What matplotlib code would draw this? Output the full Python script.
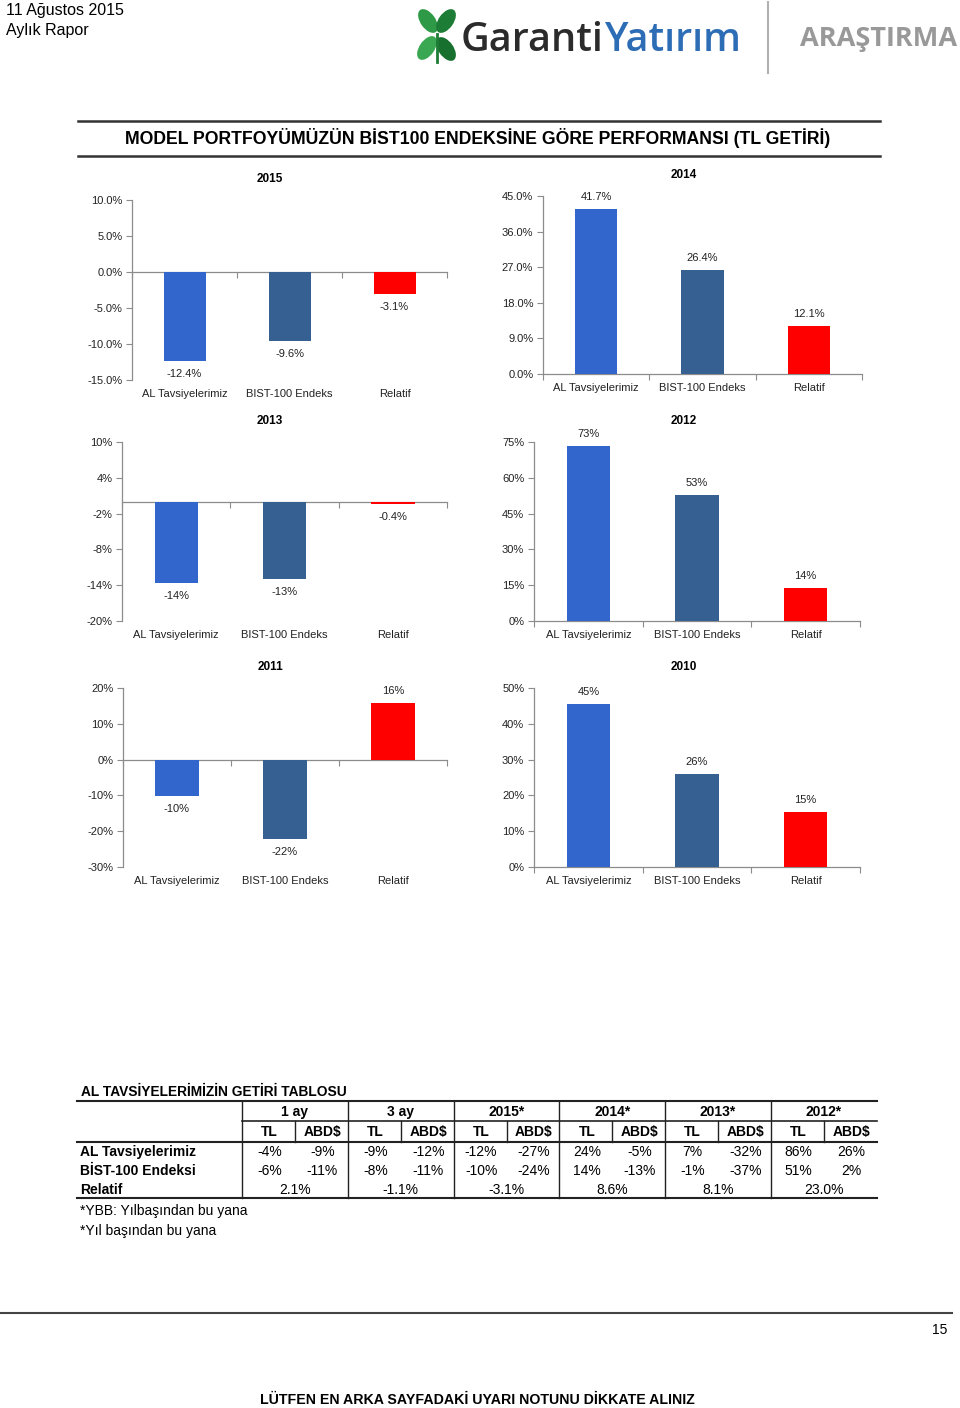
import numpy as np
import matplotlib
matplotlib.use("Agg")
import matplotlib.pyplot as plt
from matplotlib.patches import Ellipse

# ---- chart data ----
categories = ["AL Tavsiyelerimiz", "BIST-100 Endeks", "Relatif"]
bar_colors = ["#3366CC", "#376092", "#FF0000"]

vals_2015 = [-12.4, -9.6, -3.1]
vals_2014 = [41.7, 26.4, 12.1]
vals_2013 = [-13.6, -12.9, -0.4]
vals_2012 = [73.4, 52.7, 13.8]
vals_2011 = [-10.2, -22.2, 15.9]
vals_2010 = [45.4, 26.0, 15.4]

lbl_2015 = ["-12.4%", "-9.6%", "-3.1%"]
lbl_2014 = ["41.7%", "26.4%", "12.1%"]
lbl_2013 = ["-14%", "-13%", "-0.4%"]
lbl_2012 = ["73%", "53%", "14%"]
lbl_2011 = ["-10%", "-22%", "16%"]
lbl_2010 = ["45%", "26%", "15%"]

ticks_2015 = [-15, -10, -5, 0, 5, 10]
ticks_2014 = [0, 9, 18, 27, 36, 45]
ticks_2013 = [-20, -14, -8, -2, 4, 10]
ticks_2012 = [0, 15, 30, 45, 60, 75]
ticks_2011 = [-30, -20, -10, 0, 10, 20]
ticks_2010 = [0, 10, 20, 30, 40, 50]

# ---- table data ----
periods = ["1 ay", "3 ay", "2015*", "2014*", "2013*", "2012*"]
subcols = ["TL", "ABD$"]
row_names = ["AL Tavsiyelerimiz", "BİST-100 Endeksi", "Relatif"]
al_row = ["-4%", "-9%", "-9%", "-12%", "-12%", "-27%", "24%", "-5%", "7%", "-32%", "86%", "26%"]
bist_row = ["-6%", "-11%", "-8%", "-11%", "-10%", "-24%", "14%", "-13%", "-1%", "-37%", "51%", "2%"]
relatif_row = ["2.1%", "-1.1%", "-3.1%", "8.6%", "8.1%", "23.0%"]
footnotes = ["*YBB: Yılbaşından bu yana", "*Yıl başından bu yana"]

ARIAL = ["Liberation Sans", "DejaVu Sans"]
NARROW = ["Liberation Sans Narrow", "Liberation Sans", "DejaVu Sans"]
LOGO = ["Open Sans", "DejaVu Sans"]
AXIS_GRAY = "#8c8c8c"
W, H = 960, 1408

fig = plt.figure(figsize=(W / 100, H / 100), dpi=100)
bg = fig.add_axes([0, 0, 1, 1])
bg.set_xlim(0, W)
bg.set_ylim(H, 0)
bg.axis("off")


def px_rect(x0, y0, x1, y1):
    return [x0 / W, 1 - y1 / H, (x1 - x0) / W, (y1 - y0) / H]


def add_panel(year, vals, lbls, ticks, fmt, box, title_x):
    ax = fig.add_axes(px_rect(*box))
    ax.set_facecolor("none")
    x = np.arange(len(categories))
    ax.bar(x, vals, width=0.4, color=bar_colors, zorder=3)
    ax.set_xlim(-0.5, 2.5)
    ax.set_ylim(ticks[0], ticks[-1])
    ax.set_yticks(ticks)
    ax.set_yticklabels([fmt % t for t in ticks], family=ARIAL, fontsize=8, color="#222222")
    ax.set_xticks([-0.5, 0.5, 1.5, 2.5])
    ax.tick_params(axis="x", labelbottom=False, length=4, color=AXIS_GRAY, direction="out")
    ax.tick_params(axis="y", length=4, color=AXIS_GRAY, pad=3)
    for s in ["top", "right"]:
        ax.spines[s].set_visible(False)
    ax.spines["bottom"].set_position(("data", 0))
    for s in ["left", "bottom"]:
        ax.spines[s].set_color(AXIS_GRAY)
        ax.spines[s].set_linewidth(0.9)
    for i, (v, t) in enumerate(zip(vals, lbls)):
        off = 12 if v >= 0 else -13
        ax.annotate(t, xy=(i, v), xytext=(0, off), textcoords="offset pixels",
                    ha="center", va="center", fontsize=8, family=ARIAL, color="#222222")
    for i, c in enumerate(categories):
        ax.annotate(c, xy=(i, 0), xycoords=("data", "axes fraction"), xytext=(0, -14),
                    textcoords="offset pixels", ha="center", va="center",
                    fontsize=8, family=ARIAL, color="#222222")
    bg.text(title_x, box[1] - 21, year, ha="center", va="center", fontsize=8.5,
            fontweight="bold", family=ARIAL)
    return ax


add_panel("2015", vals_2015, lbl_2015, ticks_2015, "%.1f%%", (132, 200, 447, 380), 270)
add_panel("2014", vals_2014, lbl_2014, ticks_2014, "%.1f%%", (543, 196, 862, 374), 684)
add_panel("2013", vals_2013, lbl_2013, ticks_2013, "%d%%", (122, 442, 447, 621), 270)
add_panel("2012", vals_2012, lbl_2012, ticks_2012, "%d%%", (534, 442, 860, 621), 684)
add_panel("2011", vals_2011, lbl_2011, ticks_2011, "%d%%", (123, 688, 447, 867), 270)
add_panel("2010", vals_2010, lbl_2010, ticks_2010, "%d%%", (534, 688, 860, 867), 684)

# ---- header ----
bg.text(6, 11, "11 Ağustos 2015", fontsize=11.5, family=NARROW, va="center")
bg.text(6, 31, "Aylık Rapor", fontsize=11.5, family=NARROW, va="center")

# clover
leaf_cols = ["#2e9a47", "#1d7c35", "#3aa852", "#17702e"]
for (cx, cy, ang), col in zip([(428, 21, -35), (446, 21, 35), (427, 48, 35), (446, 49, -35)], leaf_cols):
    bg.add_patch(Ellipse((cx, cy), 15, 27, angle=ang, color=col, lw=0))
bg.plot([437, 437], [34, 62], color="#1d7c35", lw=2)
bg.text(461, 51, "Garanti", fontsize=28.5, family=LOGO, fontweight="semibold", color="#2b2b2b",
        va="baseline")
bg.text(604, 51, "Yatırım", fontsize=28.5, family=LOGO, fontweight="semibold", color="#2d6db5",
        va="baseline")
bg.plot([768, 768], [2, 73], color="#b0b0b0", lw=1.5)
bg.text(957, 39, "ARAŞTIRMA", fontsize=19.5, family=LOGO, fontweight="bold",
        color="#999999", ha="right", va="center")

# title band
bg.plot([78, 880], [121, 121], color="#333333", lw=1.8)
bg.plot([78, 880], [156, 156], color="#333333", lw=1.8)
bg.text(478, 138, "MODEL PORTFOYÜMÜZÜN BİST100 ENDEKSİNE GÖRE PERFORMANSI (TL GETİRİ)",
        ha="center", va="center", fontsize=12.7, fontweight="bold", family=NARROW)

# ---- table ----
t_left, t_right = 77, 877
g_left, g_w = 242, 105.8
y_top, y_mid, y_head, y_bot = 1101, 1121, 1142, 1198
bg.text(t_left + 4, 1092, "AL TAVSİYELERİMİZİN GETİRİ TABLOSU", fontsize=9.9, fontweight="bold",
        family=NARROW, va="center")
bg.plot([t_left, t_right], [y_top, y_top], color="#222222", lw=1.5)
bg.plot([g_left, t_right], [y_mid, y_mid], color="#222222", lw=1.2)
bg.plot([t_left, t_right], [y_head, y_head], color="#222222", lw=1.5)
bg.plot([t_left, t_right], [y_bot, y_bot], color="#222222", lw=1.5)
for k, p in enumerate(periods):
    gx = g_left + k * g_w
    bg.plot([gx, gx], [y_top, y_bot], color="#222222", lw=1.0)
    bg.plot([gx + g_w / 2, gx + g_w / 2], [y_mid, y_head], color="#222222", lw=1.0)
    bg.text(gx + g_w / 2, 1112, p, ha="center", va="center", fontsize=10, fontweight="bold", family=NARROW)
    for j, s in enumerate(subcols):
        bg.text(gx + g_w * (0.26 + 0.5 * j), 1132, s, ha="center", va="center", fontsize=10,
                fontweight="bold", family=NARROW)
    for r, row in enumerate([al_row, bist_row]):
        for j in range(2):
            bg.text(gx + g_w * (0.26 + 0.5 * j), 1152 + 19 * r, row[2 * k + j], ha="center",
                    va="center", fontsize=10, family=ARIAL)
    bg.text(gx + g_w / 2, 1190, relatif_row[k], ha="center", va="center", fontsize=10, family=ARIAL)
for r, name in enumerate(row_names):
    bg.text(t_left + 3, 1152 + 19 * r, name, va="center", fontsize=10, fontweight="bold", family=ARIAL)
for r, note in enumerate(footnotes):
    bg.text(t_left + 3, 1211 + 20 * r, note, va="center", fontsize=10, family=ARIAL)

# ---- footer ----
bg.plot([0, 952], [1313, 1313], color="#444444", lw=1.5)
bg.text(947, 1330, "15", ha="right", va="center", fontsize=10, family=NARROW)
bg.text(477, 1400, "LÜTFEN EN ARKA SAYFADAKİ UYARI NOTUNU DİKKATE ALINIZ", ha="center",
        va="center", fontsize=10.2, fontweight="bold", family=NARROW)

fig.savefig("out.png", dpi=100)
